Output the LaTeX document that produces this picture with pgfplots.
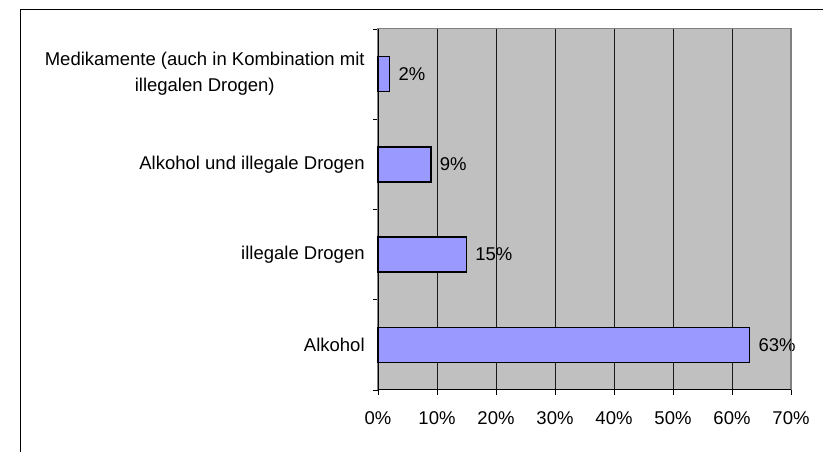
\documentclass[border=0pt]{standalone}
\usepackage{pgfplots}
\pgfplotsset{compat=1.18}
\usepackage{fontspec}
\setmainfont{Liberation Sans}
\definecolor{barblue}{HTML}{9999FF}
\definecolor{plotgray}{HTML}{C0C0C0}
\definecolor{bordergray}{HTML}{808080}
\begin{document}
\fontsize{18.5}{26}\selectfont
\begin{tikzpicture}[x=1pt,y=1pt]
\path[use as bounding box] (0,0) rectangle (823,452);
\draw[line width=1.4pt] (20.5,0) -- (20.5,442.5) -- (823,442.5);
\begin{axis}[
  at={(378pt,62pt)}, anchor=south west,
  width=413pt, height=361pt, scale only axis,
  xbar, xmin=0, xmax=70, ymin=-0.5, ymax=3.5,
  bar width=35pt,
  axis background/.style={fill=plotgray},
  axis line style={draw=bordergray, line width=1pt},
  xtick={0,10,20,30,40,50,60,70},
  xticklabels={0\%,10\%,20\%,30\%,40\%,50\%,60\%,70\%},
  xtick pos=bottom, ytick pos=left,
  tick align=outside,
  major tick length=5pt, minor tick length=5pt,
  xtick style={draw=black, line width=0.8pt},
  xmajorgrids, major grid style={draw=black!90, line width=0.9pt},
  ytick={0,1,2,3},
  yticklabels={Alkohol, illegale Drogen, Alkohol und illegale Drogen, {Medikamente (auch in Kombination mit\\illegalen Drogen)}},
  major y tick style={draw=none},
  minor ytick={-0.5,0.5,1.5,2.5,3.5},
  minor y tick style={draw=black, line width=0.8pt},
  yticklabel style={align=center, font=\fontsize{18.5}{26}\selectfont, xshift=-2pt},
  xticklabel style={font=\fontsize{18.5}{26}\selectfont, yshift=-10pt},
  nodes near coords={\pgfmathprintnumber[assume math mode=true]{\pgfplotspointmeta}\%},
  nodes near coords style={anchor=west, font=\fontsize{18.5}{26}\selectfont, xshift=2pt},
  clip=false,
]
\addplot[fill=barblue, draw=black, line width=1.3pt] coordinates {(63,0) (15,1) (9,2) (2,3)};
\end{axis}
\draw[bordergray, line width=1pt] (378,423) -- (791,423) -- (791,62);
\draw[black, line width=1pt] (378,423) -- (378,62) -- (791,62);
\end{tikzpicture}
\end{document}
